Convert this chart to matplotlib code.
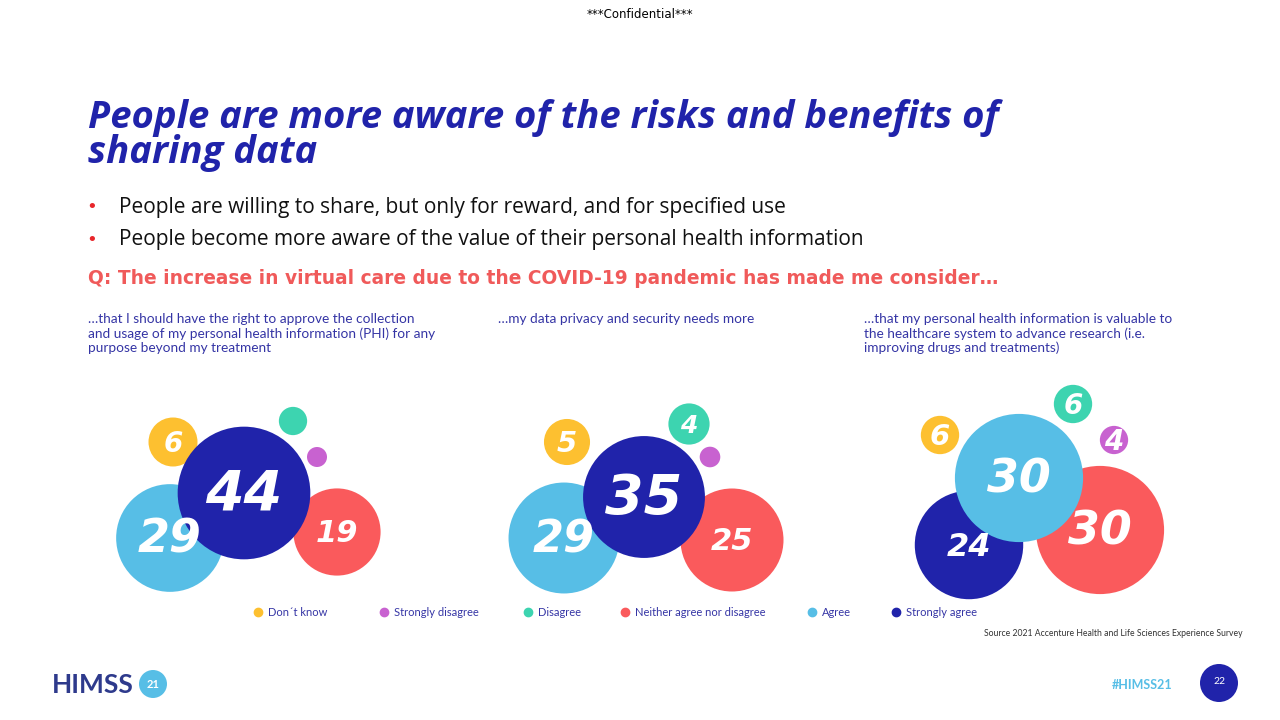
import matplotlib
matplotlib.use("Agg")
import matplotlib.pyplot as plt
from matplotlib.patches import Circle

# survey answers, same order in all three panels
categories = ["Don\u00b4t know", "Strongly disagree", "Disagree",
              "Neither agree nor disagree", "Agree", "Strongly agree"]
colors = ["#FDC030", "#C862D0", "#3DD4B0", "#FA5A5C", "#57BEE6", "#2023AA"]

phi_approval = [6, 1, 2, 19, 29, 44]
privacy_needs = [5, 1, 4, 25, 29, 35]
phi_valuable = [6, 4, 6, 30, 30, 24]

subtitles = [
    "\u2026that I should have the right to approve the collection\n"
    "and usage of my personal health information (PHI) for any\n"
    "purpose beyond my treatment",
    "\u2026my data privacy and security needs more",
    "\u2026that my personal health information is valuable to\n"
    "the healthcare system to advance research (i.e.\n"
    "improving drugs and treatments)",
]

# bubble layout (pixels on a 1280x720 slide), one entry per category
centres = [
    [(173, 442), (317, 457), (293, 421), (337, 532), (170, 538), (244, 493)],
    [(567, 442), (710, 457), (689, 424), (732, 540), (564, 538), (644, 497)],
    [(940, 435), (1114, 440), (1073, 404), (1100, 530), (1019, 478), (969, 545)],
]
scale = [(10.0, 0.5), (10.3, 0.5), (5.0, 0.75)]  # radius = k * v**p
label_sizes = [
    [20, 0, 0, 22, 33, 40],
    [21, 0, 18, 22, 32, 40],
    [21, 20, 20, 33, 33, 23],
]
subtitle_x = [88, 498, 864]
legend_x = [258, 384, 528, 625, 812, 896]

navy = "#2023AA"
red = "#F05A5A"
body_font = "Lato"

fig = plt.figure(figsize=(12.8, 7.2), dpi=100)
ax = fig.add_axes([0, 0, 1, 1])
ax.set_xlim(0, 1280)
ax.set_ylim(720, 0)
ax.set_aspect("equal")
ax.axis("off")

ax.text(640, 14, "***Confidential***", ha="center", va="center",
        fontsize=8.5, family="DejaVu Sans", color="black")

# title
ax.text(88, 99, "People are more aware of the risks and benefits of\nsharing data",
        fontsize=27.5, fontweight="bold", style="italic", color=navy,
        family="Open Sans", va="top", linespacing=0.88)

bullets = ["People are willing to share, but only for reward, and for specified use",
           "People become more aware of the value of their personal health information"]
for i, b in enumerate(bullets):
    y = 207 + i * 33
    ax.text(92, y, "\u2022", color="#E8262B", fontsize=13, va="center", ha="center")
    ax.text(119, y, b, fontsize=15, family="Open Sans", color="#111111", va="center")

ax.text(88, 279, "Q: The increase in virtual care due to the COVID-19 pandemic has made me consider\u2026",
        fontsize=13.4, fontweight="bold", family="DejaVu Sans", color=red, va="center")

for x, s in zip(subtitle_x, subtitles):
    ax.text(x, 313, s, fontsize=9.8, family=body_font, color="#3535A5",
            va="top", linespacing=1.2)

for panel, values in enumerate([phi_approval, privacy_needs, phi_valuable]):
    k, p = scale[panel]
    order = sorted(range(len(values)), key=lambda i: values[i])
    for z, i in enumerate(order):
        cx, cy = centres[panel][i]
        r = k * values[i] ** p
        ax.add_patch(Circle((cx, cy), r, color=colors[i], lw=0, zorder=2 + z))
        if values[i] >= 3:
            ax.text(cx, cy + 2, str(values[i]), ha="center", va="center",
                    fontsize=label_sizes[panel][i], fontweight="bold", style="italic",
                    color="white", zorder=20, family="DejaVu Sans")

# legend
for x, c, lab in zip(legend_x, colors, categories):
    ax.plot(x, 612, "o", ms=6, color=c)
    ax.text(x + 10, 612, lab, fontsize=8, family=body_font, color="#3535A5", va="center")

ax.text(1243, 633, "Source 2021 Accenture Health and Life Sciences Experience Survey",
        fontsize=6.2, family=body_font, color="#333333", ha="right", va="center")

# footer
ax.text(52, 685, "HIMSS", fontsize=19, fontweight="bold", family=body_font,
        color="#2E3A8C", va="center")
ax.add_patch(Circle((153, 684), 14, color="#57BEE6", lw=0))
ax.text(153, 684, "21", fontsize=8, fontweight="bold", color="white",
        ha="center", va="center", family=body_font)
ax.text(1172, 685, "#HIMSS21", fontsize=9, fontweight="bold", family=body_font,
        color="#57BEE6", ha="right", va="center")
ax.add_patch(Circle((1219, 683), 19, color=navy, lw=0))
ax.text(1219, 682, "22", fontsize=7.5, color="white", ha="center", va="center",
        family=body_font)

fig.savefig("out.png", dpi=100)
